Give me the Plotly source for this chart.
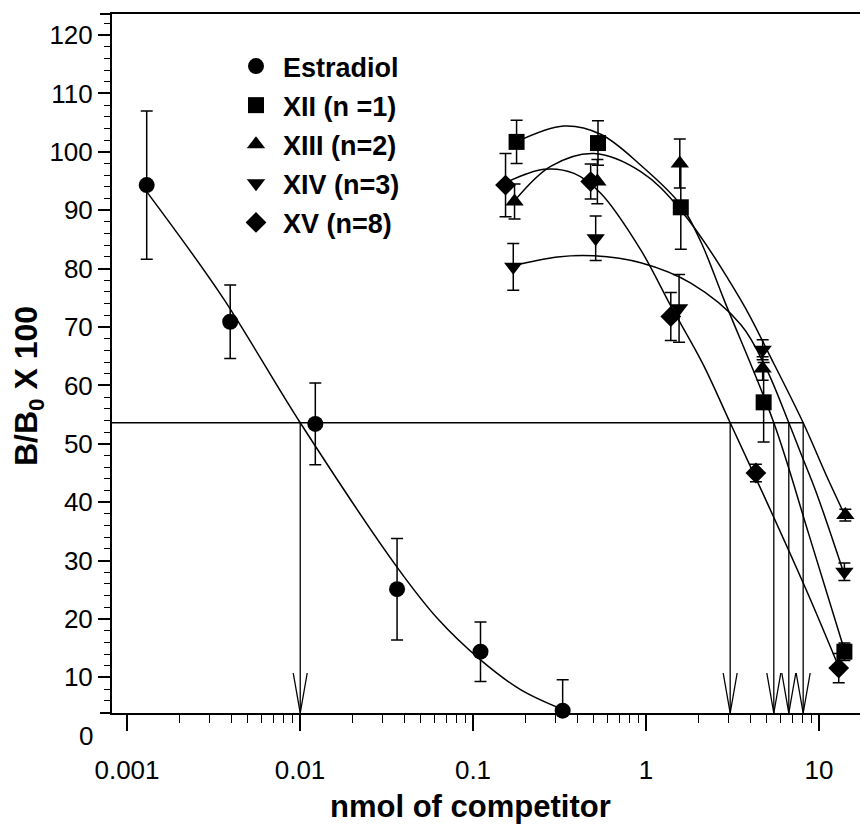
import plotly.graph_objects as go

# ---------------- data ----------------
# Estradiol
estr_x = [0.0013, 0.00395, 0.01226, 0.0364, 0.1105, 0.3298]
estr_y = [94.3, 70.9, 53.4, 25.1, 14.4, 4.3]
estr_err = [12.7, 6.3, 7.0, 8.7, 5.1, 5.3]
estr_curve_x = [0.001305, 0.003548, 0.01003, 0.03655, 0.06314, 0.1105, 0.1883, 0.3298]
estr_curve_y = [93.1, 75.2, 53.6, 28.8, 19.9, 13.0, 7.9, 4.5]

# XII (n = 1)
xii_x = [0.1786, 0.5278, 1.589, 4.786, 14.02]
xii_y = [101.7, 101.5, 90.5, 57.1, 14.4]
xii_err = [3.7, 3.8, 7.2, 6.8, 1.5]
xii_curve_x = [0.1786, 0.3354, 0.5470, 0.9325, 1.589, 2.075, 2.830, 5.48, 8.752, 14.02]
xii_curve_y = [101.7, 104.4, 103.0, 97.7, 90.9, 84.6, 74.6, 53.6, 34.4, 14.7]

# XIII (n = 2)
xiii_x = [0.1738, 0.5236, 1.568, 4.722, 14.2]
xiii_y = [91.5, 94.9, 98.0, 62.9, 37.8]
xiii_err = [3.0, 3.8, 4.2, 2.0, 1.0]
xiii_curve_x = [0.1738, 0.2809, 0.5005, 0.9325, 1.589, 3.536, 5.274, 8.10, 10.98, 14.14]
xiii_curve_y = [91.6, 97.5, 99.7, 96.6, 90.0, 74.6, 64.7, 53.6, 44.7, 37.7]

# XIV (n = 3)
xiv_x = [0.1709, 0.5118, 1.553, 4.722, 14.02]
xiv_y = [80.3, 85.2, 73.2, 66.1, 28.1]
xiv_err = [4.0, 3.8, 5.8, 1.7, 1.5]
xiv_curve_x = [0.1709, 0.3072, 0.5005, 0.9325, 1.816, 3.536, 4.934, 6.69, 7.866, 9.607, 13.72]
xiv_curve_y = [80.5, 82.0, 82.2, 81.0, 77.5, 70.4, 63.0, 53.6, 48.3, 41.8, 28.4]

# XV (n = 8)
xv_x = [0.1542, 0.4788, 1.391, 4.318, 13.0]
xv_y = [94.3, 94.9, 71.8, 45.0, 11.6]
xv_err = [5.4, 3.0, 4.1, 1.5, 2.5]
xv_curve_x = [0.1542, 0.2570, 0.3834, 0.5470, 0.9325, 1.391, 2.131, 3.066, 4.824, 8.603, 12.83]
xv_curve_y = [94.7, 97.0, 96.3, 92.9, 83.2, 73.6, 63.7, 53.6, 41.0, 24.4, 12.2]

# 50 % displacement level and read-off concentrations (arrows)
half_level = 53.6
ic50_x = [0.01003, 3.066, 5.48, 6.69, 8.10]

# axis ticks
x_tick_vals = [0.001, 0.01, 0.1, 1, 10]
x_tick_text = ["0.001", "0.01", "0.1", "1", "10"]

# ---------------- layout constants ----------------
X_RANGE = [-3.0867, 1.2832]      # log10 units
Y_RANGE = [3.9, 123.6]
OFF = 8                           # page body margin of the browser
W, H = 868 - OFF, 825 - OFF
ML, MR, MT = 112 - OFF, 0, 14 - OFF
PW, PH = W - ML - MR, 699
MB = H - MT - PH
FONT = "Arial, Liberation Sans, sans-serif"


def px_x(p):  # screen px -> paper x
    return (p - OFF - ML) / PW


def px_y(p):  # screen px -> paper y
    return (MT + PH - (p - OFF)) / PH


fig = go.Figure()

series = [
    ("Estradiol", "circle", estr_x, estr_y, estr_err, estr_curve_x, estr_curve_y),
    ("XII (n =1)", "square", xii_x, xii_y, xii_err, xii_curve_x, xii_curve_y),
    ("XIII (n=2)", "triangle-up", xiii_x, xiii_y, xiii_err, xiii_curve_x, xiii_curve_y),
    ("XIV (n=3)", "triangle-down", xiv_x, xiv_y, xiv_err, xiv_curve_x, xiv_curve_y),
    ("XV (n=8)", "diamond", xv_x, xv_y, xv_err, xv_curve_x, xv_curve_y),
]

# fitted curves
for name, sym, x, y, e, cx, cy in series:
    fig.add_trace(go.Scatter(
        x=cx, y=cy, mode="lines",
        line=dict(color="black", width=1.5, shape="spline", smoothing=1.0),
        showlegend=False, hoverinfo="skip"))

# 50% line and arrows
fig.add_trace(go.Scatter(
    x=[10 ** X_RANGE[0], max(ic50_x)], y=[half_level, half_level], mode="lines",
    line=dict(color="black", width=1.5), showlegend=False, hoverinfo="skip"))

arm_dx = 10 ** (7 / (PW / (X_RANGE[1] - X_RANGE[0])))
arm_dy = 40 / (PH / (Y_RANGE[1] - Y_RANGE[0]))
ax_, ay_ = [], []
for xi in ic50_x:
    ax_ += [xi, xi, None, xi / arm_dx, xi, xi * arm_dx, None]
    ay_ += [half_level, Y_RANGE[0], None, Y_RANGE[0] + arm_dy, Y_RANGE[0], Y_RANGE[0] + arm_dy, None]
fig.add_trace(go.Scatter(x=ax_, y=ay_, mode="lines", line=dict(color="black", width=1.3),
                         showlegend=False, hoverinfo="skip", connectgaps=False))

# data points with error bars
for name, sym, x, y, e, cx, cy in series:
    fig.add_trace(go.Scatter(
        x=x, y=y, mode="markers", name=name, legendgroup=name,
        marker=dict(symbol=sym, size=16, color="black", line=dict(width=0)),
        error_y=dict(type="data", array=e, color="black", thickness=1.5, width=6),
        cliponaxis=False))

minor_x = [k * 10 ** d for d in range(-3, 2) for k in range(2, 10)]
minor_x = [v for v in minor_x if v < 10 ** X_RANGE[1]]

fig.update_layout(
    width=W, height=H,
    margin=dict(l=ML, r=MR, t=MT, b=MB, autoexpand=False),
    paper_bgcolor="white", plot_bgcolor="white",
    font=dict(family=FONT, color="black"),
    showlegend=True,
    legend=dict(x=px_x(229), y=px_y(42), xanchor="left", yanchor="top",
                bgcolor="rgba(0,0,0,0)", itemwidth=44, tracegroupgap=1,
                font=dict(family=FONT, size=27, color="black", weight="bold")),
    xaxis=dict(type="log", range=X_RANGE, showgrid=False, zeroline=False, automargin=False,
               showline=True, linecolor="black", linewidth=2, mirror=True,
               tickmode="array", tickvals=x_tick_vals, ticktext=x_tick_text,
               ticks="outside", ticklen=16, tickwidth=1.5, tickcolor="black",
               ticklabelstandoff=17,
               tickfont=dict(family=FONT, size=26, color="black"),
               minor=dict(tickmode="array", tickvals=minor_x, ticks="outside",
                          ticklen=8, tickwidth=1.2, tickcolor="black", showgrid=False)),
    yaxis=dict(range=Y_RANGE, showgrid=False, zeroline=False, automargin=False,
               showline=True, linecolor="black", linewidth=2, mirror=False,
               tickmode="linear", tick0=0, dtick=10,
               ticks="outside", ticklen=12, tickwidth=1.5, tickcolor="black",
               tickfont=dict(family=FONT, size=26, color="black"),
               minor=dict(tickmode="linear", tick0=0, dtick=2, ticks="outside",
                          ticklen=6, tickwidth=1.2, tickcolor="black", showgrid=False)),
    shapes=[
        dict(type="line", xref="paper", yref="paper", x0=-12 / PW, x1=0, y0=0, y1=0,
             line=dict(color="black", width=2)),
        dict(type="line", xref="paper", yref="paper", x0=-12 / PW, x1=0, y0=1, y1=1,
             line=dict(color="black", width=2)),
    ],
    annotations=[
        dict(text="0", xref="paper", yref="paper", x=px_x(95),
             y=(0 - Y_RANGE[0]) / (Y_RANGE[1] - Y_RANGE[0]),
             xanchor="right", yanchor="middle", showarrow=False,
             font=dict(family=FONT, size=26, color="black")),
        dict(text="<b>B/B<sub>0</sub> X 100</b>", xref="paper", yref="paper",
             x=px_x(28), y=px_y(386), xanchor="center", yanchor="middle",
             textangle=-90, showarrow=False,
             font=dict(family=FONT, size=32, color="black")),
        dict(text="<b>nmol of competitor</b>", xref="paper", yref="paper",
             x=px_x(470), y=px_y(806), xanchor="center", yanchor="middle",
             showarrow=False, font=dict(family=FONT, size=31, color="black")),
    ],
)

fig.write_html("out.html")
